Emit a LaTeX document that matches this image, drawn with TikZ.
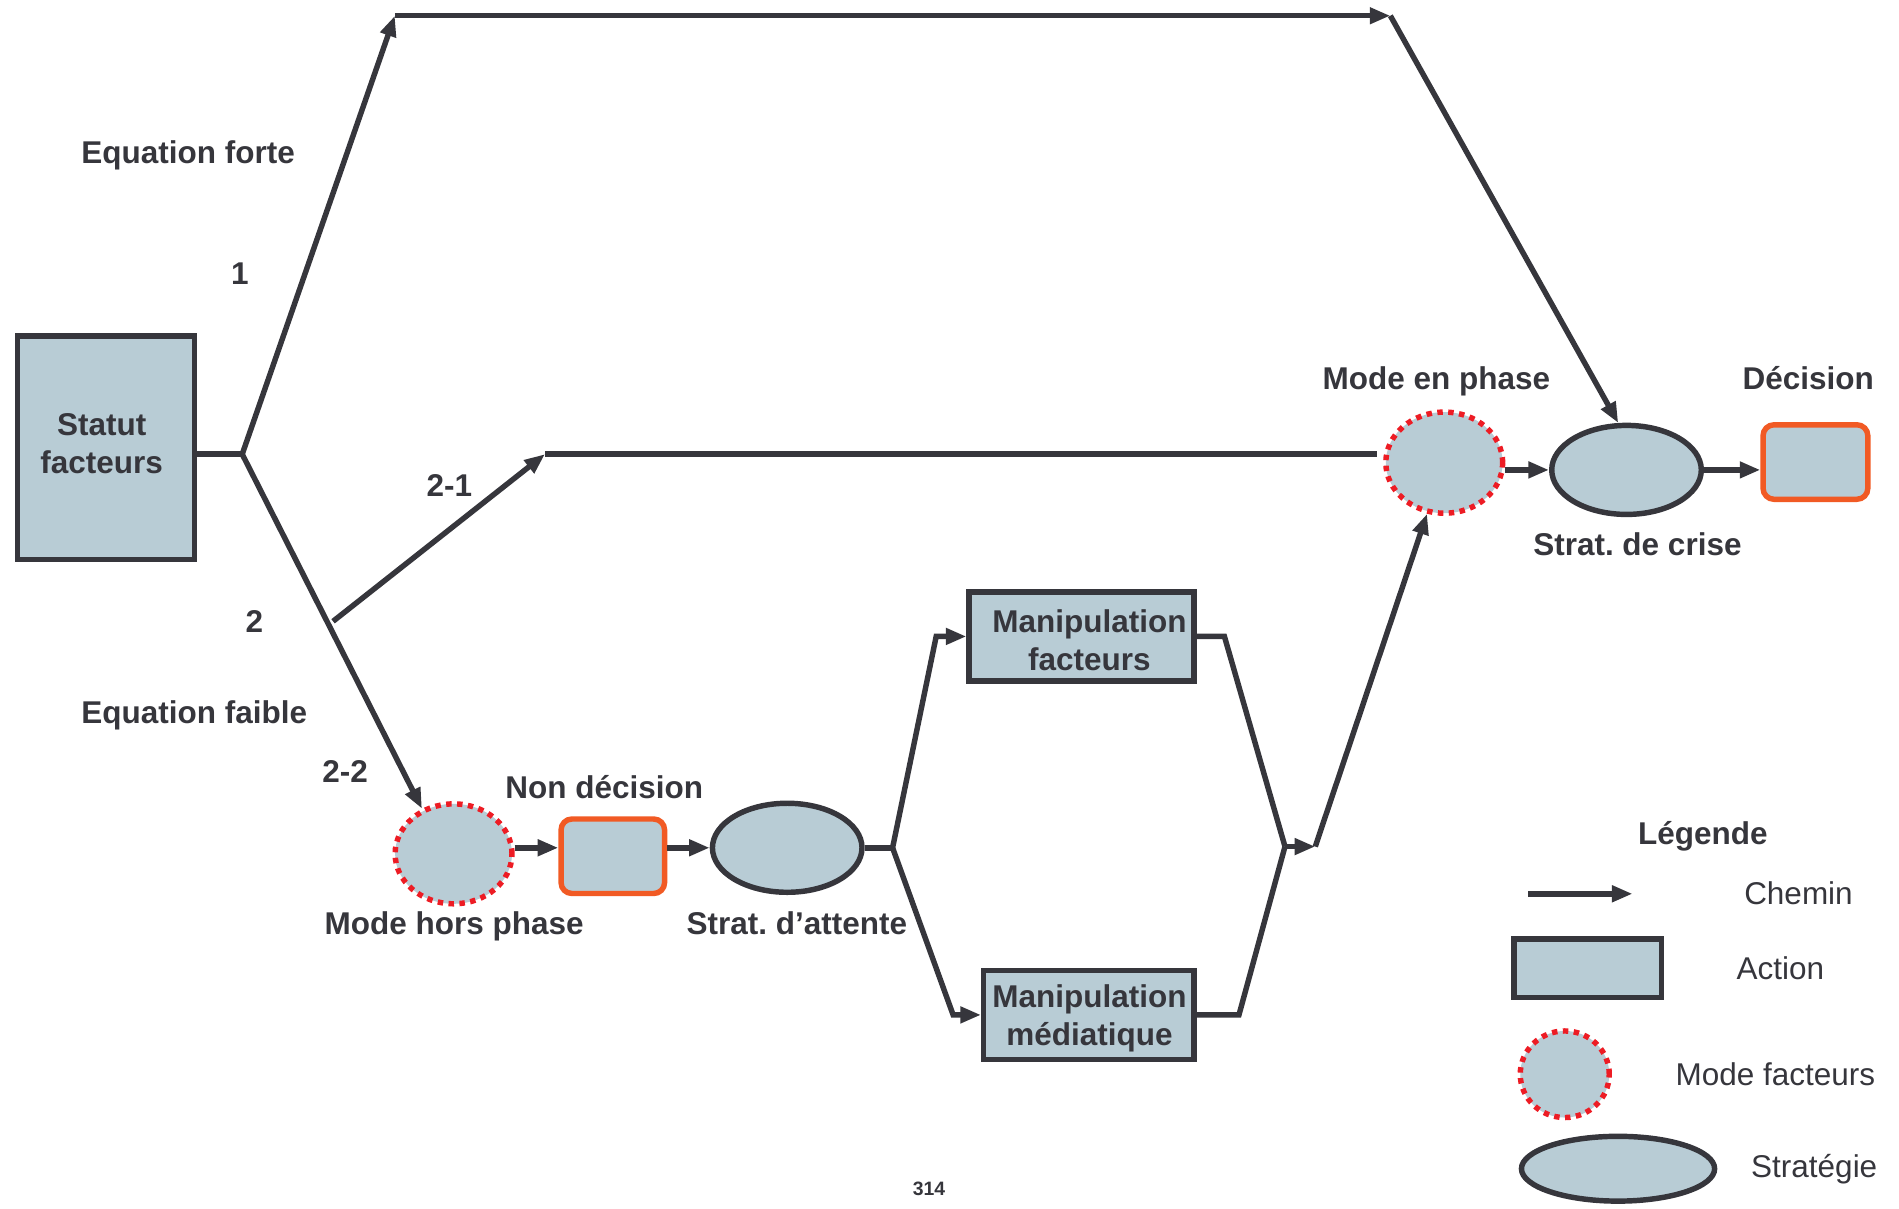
\documentclass[tikz,border=0pt]{standalone}
\usepackage{fontspec}
\setmainfont{Liberation Sans}
\usetikzlibrary{shapes.geometric,arrows.meta,calc}
\definecolor{ink}{RGB}{54,54,60}
\definecolor{fillbg}{RGB}{184,204,213}
\definecolor{orangeedge}{RGB}{241,90,36}
\definecolor{reddot}{RGB}{237,28,36}
\frenchspacing
\begin{document}
\begin{tikzpicture}[x=1pt,y=-1pt,
  every node/.style={text=ink, font=\fontsize{26}{31}\selectfont\bfseries},
  action/.style={rectangle, draw=ink, fill=fillbg, line width=4.5pt, inner sep=0pt},
  outcome/.style={rectangle, rounded corners=9pt, draw=orangeedge, fill=fillbg, line width=4.5pt, inner sep=0pt},
  modef/.style={ellipse, draw=reddot, fill=fillbg, line width=4.5pt, dash pattern=on 4.5pt off 4.5pt, inner sep=0pt},
  strat/.style={ellipse, draw=ink, fill=fillbg, line width=4.5pt, inner sep=0pt},
  boxtext/.style={align=center, inner sep=0pt},
  link/.style={draw=ink, line width=4.5pt},
  arr/.style={link, -{Triangle[length=17pt,width=13pt]}},
  lbl/.style={anchor=base, inner sep=0pt},
  leg/.style={lbl, font=\fontsize{26}{31}\selectfont},
]
\useasboundingbox (0,0) rectangle (1568,998);

% main nodes
\node[action, minimum width=146.5pt, minimum height=184.5pt] (statut) at (87.5,369.5) {};
\node[boxtext] (tstatut) at (84,366.5) {Statut\\facteurs};
\node[modef, minimum width=96.5pt, minimum height=83.5pt] (enphase) at (1192.5,382) {};
\node[strat, minimum width=123.5pt, minimum height=73.5pt] (crise) at (1343,388) {};
\node[outcome, minimum width=86.5pt, minimum height=61.5pt] (decision) at (1499,381.5) {};
\node[modef, minimum width=96.5pt, minimum height=82.5pt] (horsphase) at (374.5,705) {};
\node[outcome, minimum width=85.5pt, minimum height=61.5pt] (nondec) at (506,707) {};
\node[strat, minimum width=123.5pt, minimum height=73.5pt] (attente) at (650,700) {};
\node[action, minimum width=185.5pt, minimum height=73.5pt] (manipf) at (893,525.5) {};
\node[boxtext] (tmanipf) at (899.5,528.5) {Manipulation\\facteurs};
\node[action, minimum width=173.5pt, minimum height=73.5pt] (manipm) at (899,838) {};
\node[boxtext] (tmanipm) at (899.5,841) {Manipulation\\médiatique};

% path points
\coordinate (J0) at (200,375);
\coordinate (T1) at (326,13);
\coordinate (T2) at (1148,13);
\coordinate (B21) at (275,513);
\coordinate (E21) at (450,375);
\coordinate (J1) at (737,700);
\coordinate (C1) at (773,525.5);
\coordinate (C2) at (787,838);
\coordinate (D1) at (1011,525.5);
\coordinate (D2) at (1023,838);
\coordinate (J2) at (1061,699);
\coordinate (J3) at (1086,699);

% path 1 : strong equation
\draw[link] (statut.east |- J0) -- (J0);
\draw[arr] (J0) -- (T1);
\draw[arr] (T1) -- (T2);
\draw[arr] (T2) -- (crise.100);

% path 2-1
\draw[arr] (B21) -- (E21);
\draw[link, shorten >=5pt] (E21) -- (E21 -| enphase.west);

% path 2-2
\draw[arr] (J0) -- (horsphase.125);
\draw[arr] (horsphase.east |- attente) -- (nondec.west |- attente);
\draw[arr] (nondec.east |- attente) -- (attente.west);
\draw[link] (attente.east) -- (J1);
\draw[arr] (J1) -- (C1) -- (manipf.west);
\draw[arr] (J1) -- (C2) -- (manipm.west);
\draw[link] (manipf.east) -- (D1) -- (J2);
\draw[link] (manipm.east) -- (D2) -- (J2);
\draw[arr] (J2) -- (J3);
\draw[arr] (J3) -- (enphase);

% towards the decision
\draw[arr] (enphase.east |- crise) -- (crise.west);
\draw[arr] (crise.east) -- (crise.east -| decision.west);

% labels
\node[lbl, anchor=base west] (eqforte) at (67,135) {Equation forte};
\node[lbl] (n1) at (198,235) {1};
\node[lbl] (n21) at (371,410) {2-1};
\node[lbl] (n2) at (210,522) {2};
\node[lbl, anchor=base west] (eqfaible) at (67,597) {Equation faible};
\node[lbl] (n22) at (285,646) {2-2};
\node[lbl] (tnondec) at (499,659) {Non décision};
\node[lbl] (thors) at (375,772) {Mode hors phase};
\node[lbl] (tattente) at (658,772) {Strat. d’attente};
\node[lbl] (tenphase) at (1186,322) {Mode en phase};
\node[lbl] (tdecision) at (1493,322) {Décision};
\node[lbl] (tcrise) at (1352,459) {Strat. de crise};
\node[lbl, font=\fontsize{16}{19}\selectfont\bfseries] (page) at (767,987) {314};

% legend
\node[lbl] (tlegende) at (1406,697) {Légende};
\coordinate (L1) at (1262,738);
\coordinate (L2) at (1348,738);
\draw[arr] (L1) -- (L2);
\node[leg] (tchemin) at (1485,747) {Chemin};
\node[action, minimum width=121.5pt, minimum height=48.5pt] (legact) at (1311,799.5) {};
\node[leg] (taction) at (1470,809) {Action};
\node[modef, minimum width=73.5pt, minimum height=71.5pt] (legmode) at (1292,887) {};
\node[leg] (tmode) at (1466,896) {Mode facteurs};
\node[strat, minimum width=159.5pt, minimum height=53.5pt] (legstrat) at (1336,965) {};
\node[leg] (tstrat) at (1498,972) {Stratégie};
\end{tikzpicture}
\end{document}
